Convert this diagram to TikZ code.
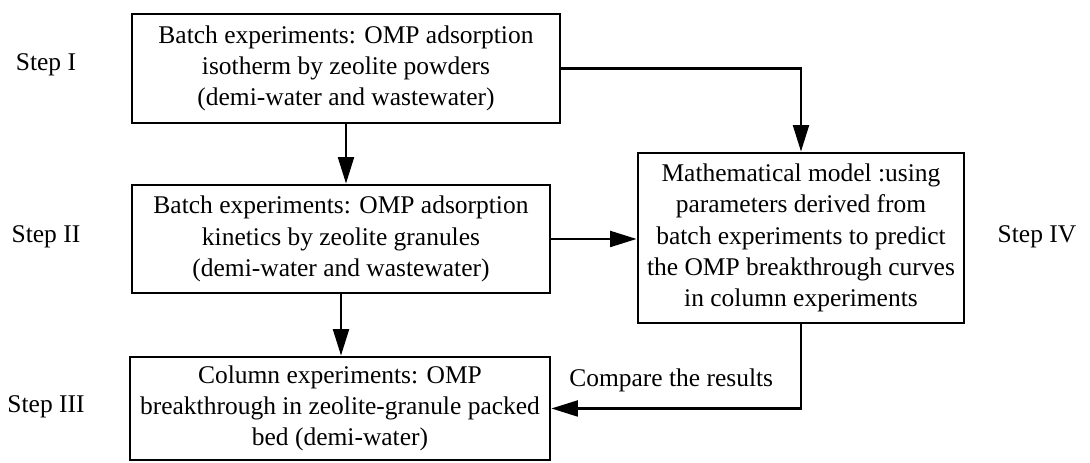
\documentclass[tikz,border=0pt]{standalone}
\usepackage{fontspec}
\setmainfont{Liberation Serif}
\usepackage{tikz}
\usetikzlibrary{arrows.meta,positioning,calc}

\begin{document}
\begin{tikzpicture}[
  stage/.style={draw, line width=0.8pt, align=center, inner sep=0pt, font=\fontsize{7.25}{8.9}\selectfont},
  steplabel/.style={font=\fontsize{7.25}{8.9}\selectfont},
  flow/.style={-{Triangle[length=7.5pt, width=4.5pt]}, line width=0.7pt},
]
  \useasboundingbox (0,0) rectangle (10.90,4.63);

  \node[stage, minimum width=4.28cm, minimum height=1.09cm] (iso) at (3.46,3.945)
    {Batch experiments: OMP adsorption\\isotherm by zeolite powders\\(demi-water and wastewater)};
  \node[stage, minimum width=4.18cm, minimum height=1.08cm] (kin) at (3.41,2.24)
    {Batch experiments: OMP adsorption\\kinetics by zeolite granules\\(demi-water and wastewater)};
  \node[stage, minimum width=4.20cm, minimum height=1.03cm] (col) at (3.40,0.545)
    {Column experiments: OMP\\breakthrough in zeolite-granule packed\\bed (demi-water)};
  \node[stage, minimum width=3.26cm, minimum height=1.70cm] (model) at (8.01,2.25)
    {Mathematical model :using\\parameters derived from\\batch experiments to predict\\the OMP breakthrough curves\\in column experiments};

  \node[steplabel] (s1) at (0.46,3.98) {Step I};
  \node[steplabel] (s2) at (0.46,2.26) {Step II};
  \node[steplabel] (s3) at (0.46,0.56) {Step III};
  \node[steplabel] (s4) at (10.37,2.26) {Step IV};

  \draw[flow] (iso.south) -- (iso.south |- kin.north);
  \draw[flow] (kin.south) -- (kin.south |- col.north);
  \draw[flow] (iso.east) -| (model.north);
  \draw[flow] (kin.east) -- (kin.east -| model.west);
  \draw[flow] (model.south) |- node[steplabel, pos=0.76, above=1pt] (cmp) {Compare the results} (col.east);
\end{tikzpicture}
\end{document}
